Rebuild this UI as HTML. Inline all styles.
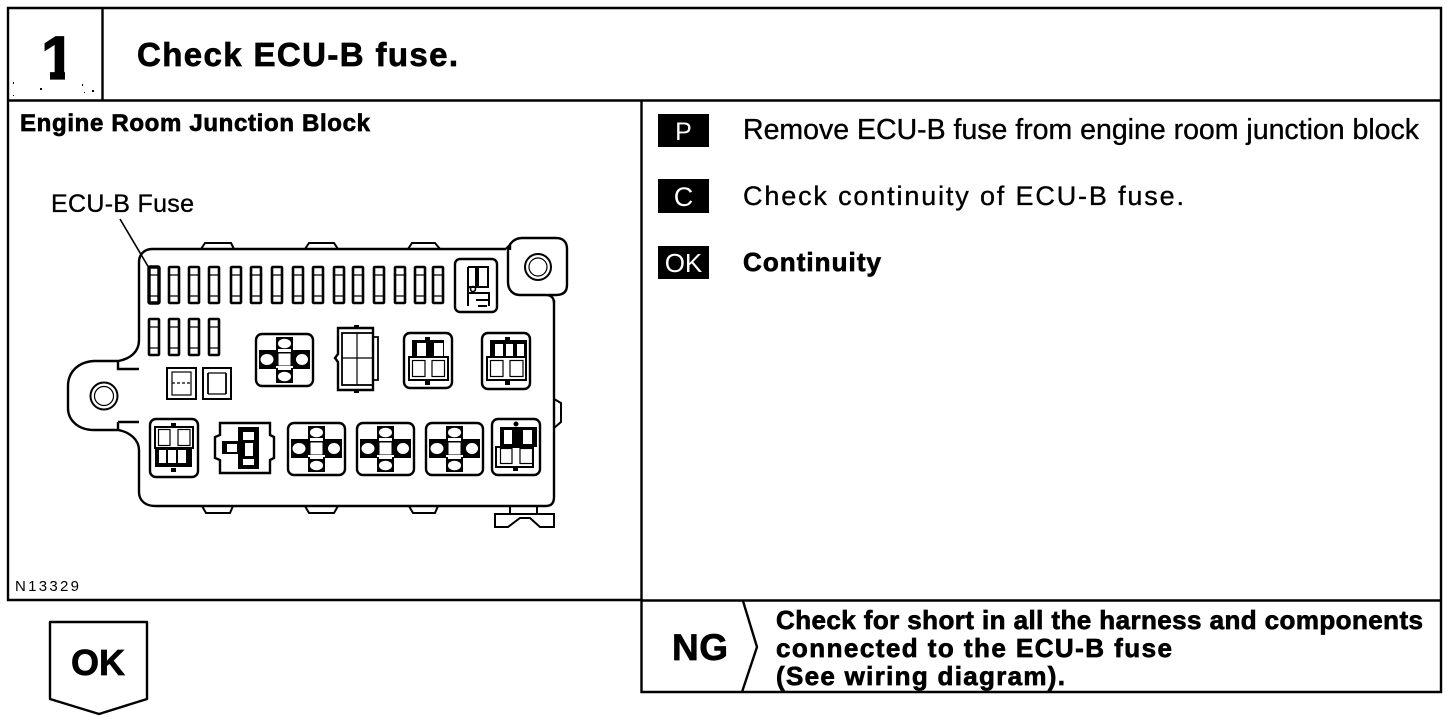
<!DOCTYPE html>
<html><head><meta charset="utf-8"><style>
html,body{margin:0;padding:0;background:#fff}
svg{display:block}
text{font-family:"Liberation Sans",sans-serif;fill:#000}
.b{font-weight:bold;stroke:#000;stroke-width:.7px}
.r{stroke:#000;stroke-width:.35px}
.l{fill:none;stroke:#000;stroke-width:2.4}
.t{fill:none;stroke:#000;stroke-width:1.2}
.k{fill:#000;stroke:none}
.v{fill:#fff;stroke:none}
</style></head><body>
<svg width="1456" height="722" viewBox="0 0 1456 722" xmlns="http://www.w3.org/2000/svg">
<defs>
<g id="f"><rect x="1" y="1" width="10" height="36" rx=".8" class="l" style="stroke-width:2.600"/><path d="M1 9H11M1 30H11" class="t"/></g>
<g id="x"><!-- cross connector 58x54 -->
<rect x="1" y="1" width="57" height="52" rx="6" class="l"/>
<path d="M21 4H38V17H55V36H38V50H21V36H4V17H21Z" class="k"/>
<path d="M23 16H36V19H23ZM23 35H36V37H23ZM21 33H38V35H21Z" class="v"/>
<rect x="23.500" y="20.500" width="12" height="12" class="v"/>
<ellipse cx="29.500" cy="10.500" rx="6.500" ry="4.800" class="v"/>
<ellipse cx="29.500" cy="43.500" rx="6.500" ry="4.800" class="v"/>
<ellipse cx="12" cy="26.500" rx="6.500" ry="5.500" class="v"/>
<ellipse cx="47" cy="26.500" rx="6" ry="5.500" class="v"/>
</g>
<g id="q1"><!-- 403 -->
<rect x="1" y="1" width="48" height="55" rx="6" class="l"/>
<rect x="9" y="8" width="32" height="17" class="k"/><rect x="14" y="11" width="9" height="14" class="v"/><rect x="31" y="11" width="9" height="14" class="v"/>
<rect x="6" y="25" width="39" height="23" class="l" style="stroke-width:2"/>
<rect x="9.500" y="28.500" width="12.500" height="16" class="t"/><rect x="29" y="28.500" width="12.500" height="16" class="t"/>
<rect x="22" y="5" width="5" height="4" class="k"/><rect x="22" y="49" width="5" height="4" class="k"/>
</g>
<g id="q2"><!-- 481 -->
<rect x="1" y="1" width="48" height="56" rx="6" class="l"/>
<rect x="9" y="8" width="37" height="17" class="k"/><rect x="14" y="12" width="8" height="13" class="v"/><rect x="25" y="12" width="7" height="13" class="v"/><rect x="36" y="12" width="7" height="13" class="v"/>
<rect x="6" y="25" width="39" height="23" class="l" style="stroke-width:2"/>
<rect x="9.500" y="28.500" width="12.500" height="16" class="t"/><rect x="29" y="28.500" width="13" height="16" class="t"/>
<rect x="24" y="5" width="5" height="4" class="k"/><rect x="24" y="49" width="5" height="4" class="k"/>
</g>
<g id="q3"><!-- 149 -->
<rect x="1" y="1" width="48" height="58" rx="6" class="l"/>
<rect x="6" y="9" width="38" height="21" class="l" style="stroke-width:2"/>
<rect x="9.500" y="11.500" width="11.500" height="16" class="t"/><rect x="29" y="11.500" width="12" height="16" class="t"/>
<rect x="6" y="30" width="37" height="19" class="k"/>
<rect x="10" y="32" width="7" height="13" class="v"/><rect x="19" y="32" width="8" height="13" class="v"/><rect x="29" y="32" width="8" height="13" class="v"/>
<rect x="22" y="5" width="5" height="4" class="k"/><rect x="22" y="50" width="5" height="4" class="k"/>
</g>
<g id="q4"><!-- 491 -->
<rect x="1" y="1" width="48" height="56" rx="6" class="l"/>
<rect x="9" y="9" width="37" height="20" class="k"/><rect x="13" y="12" width="8" height="14" class="v"/><rect x="32" y="12" width="9" height="14" class="v"/>
<rect x="5" y="29" width="37" height="20" class="l" style="stroke-width:2"/>
<rect x="9.500" y="30.500" width="11.500" height="15" class="t"/><rect x="29" y="30.500" width="12.500" height="15" class="t"/>
<circle cx="25" cy="6" r="2.500" class="k"/><rect x="22" y="49" width="5" height="4" class="k"/>
</g>
</defs>

<!-- frame -->
<path d="M8 8H1441V692H641.500V600H8Z" class="l"/>
<path d="M8 100.500H1441M102.500 8V100M641.500 100V600M641 600.500H1441" class="l"/>
<path d="M743 601L757 647L742 692" class="l"/>
<path d="M50 622H147V699L99 714L50 699Z" class="l" stroke-linejoin="round"/>

<!-- header text -->
<text x="41" y="79" font-size="61" class="b" style="stroke-width:1.200px">1</text>
<rect x="65" y="70" width="12" height="11" class="v"/>
<rect x="39" y="70" width="11" height="11" class="v"/>
<path d="M13 82h1v2h-1zM40 88h2v2h-2zM82 84h1v2h-1zM92 90h2v2h-2zM13 95h1v1h-1zM84 92h1v1h-1z" class="k"/>
<text x="137" y="66" font-size="33" class="b" textLength="321" lengthAdjust="spacing">Check ECU-B fuse.</text>
<text x="20" y="131" font-size="24" class="b" textLength="350" lengthAdjust="spacing">Engine Room Junction Block</text>
<text x="51" y="212" font-size="25" class="r" textLength="143" lengthAdjust="spacing">ECU-B Fuse</text>
<text x="15" y="591" font-size="15" textLength="64" lengthAdjust="spacing">N13329</text>

<!-- P/C/OK -->
<rect x="658" y="114" width="51" height="33" class="k"/>
<rect x="658" y="179" width="51" height="34" class="k"/>
<rect x="658" y="246" width="51" height="33" class="k"/>
<text x="683.500" y="140" font-size="25" text-anchor="middle" style="fill:#fff">P</text>
<text x="683.500" y="206" font-size="27" text-anchor="middle" style="fill:#fff">C</text>
<text x="683.500" y="272" font-size="26" text-anchor="middle" style="fill:#fff">OK</text>
<text x="743" y="139" font-size="28.500" class="r" textLength="676" lengthAdjust="spacing">Remove ECU-B fuse from engine room junction block</text>
<text x="743" y="205" font-size="27" class="r" textLength="441" lengthAdjust="spacing">Check continuity of ECU-B fuse.</text>
<text x="743" y="271" font-size="26" class="b" textLength="138" lengthAdjust="spacing">Continuity</text>

<!-- NG -->
<text x="672" y="660" font-size="37" class="b" textLength="56" lengthAdjust="spacing">NG</text>
<text x="776" y="629" font-size="26" class="b" textLength="647" lengthAdjust="spacing">Check for short in all the harness and components</text>
<text x="776" y="657" font-size="26" class="b" textLength="396" lengthAdjust="spacing">connected to the ECU-B fuse</text>
<text x="776" y="685" font-size="26" class="b" textLength="289" lengthAdjust="spacing">(See wiring diagram).</text>
<text x="71" y="675" font-size="36" class="b" textLength="54" lengthAdjust="spacing">OK</text>

<!-- leader -->
<path d="M120 219L149 268" stroke="#000" stroke-width="1.600" fill="none"/>

<!-- block outline -->
<path d="M152 249H506M139 262C139 254 145 249 152 249M139 262V340C139 352 130 359 118 361H94C78 362 68 372 68 386V408C68 420 78 430 94 430H118C130 432 139 440 139 450V492C139 501 146 506 155 506H546C552 506 554 502 554 497V300" class="l"/>
<path d="M506 249L510 245V250M508 250V282C508 290 513 295 520 295H546C553 295 554 300 554 303M508 250C509 243 515 238 522 238H556C563 238 567 242 567 249V285C567 292 563 295 556 295H548" class="l"/>
<path d="M118 361L118 369H139M118 422H139M118 422V430" class="l"/>
<!-- tabs -->
<path d="M201 249L205 243H231L234 249M305 249L309 243H334L338 249M408 249L412 243H435L440 249" class="t" style="stroke-width:2"/>
<path d="M202 506L206 513H230L233 506M305 506L309 513H334L338 506M409 506L413 513H435L438 506" class="t" style="stroke-width:2"/>
<path d="M554 399L561 403V422L554 428" class="t" style="stroke-width:2"/>
<path d="M510 506V513M537 506V513M495 514H554V527H540L530 518H520L508 527H495Z" class="t" style="stroke-width:2"/>
<!-- mount holes -->
<circle cx="104" cy="396" r="13.500" class="l" style="stroke-width:2"/><circle cx="104" cy="396" r="9.500" class="t"/>
<circle cx="538" cy="267" r="13" class="l" style="stroke-width:2"/><circle cx="538" cy="267" r="9" class="t"/>

<!-- fuse row 1 -->
<g transform="translate(148,266)"><use href="#f"/></g>
<rect x="149" y="267" width="10" height="36" rx="1" fill="none" stroke="#000" stroke-width="3.400"/>
<use href="#f" x="168" y="266"/><use href="#f" x="188" y="266"/><use href="#f" x="208" y="266"/>
<use href="#f" x="230" y="266"/><use href="#f" x="250" y="266"/><use href="#f" x="271" y="266"/>
<use href="#f" x="292" y="266"/><use href="#f" x="312" y="266"/><use href="#f" x="333" y="266"/>
<use href="#f" x="352" y="266"/><use href="#f" x="373" y="266"/><use href="#f" x="394" y="266"/>
<use href="#f" x="414" y="266"/><use href="#f" x="432" y="266"/>
<!-- fuse row 2 -->
<use href="#f" x="148" y="318"/><use href="#f" x="168" y="318"/><use href="#f" x="188" y="318"/><use href="#f" x="208" y="318"/>
<!-- small squares -->
<rect x="167" y="368" width="29" height="31" class="l" style="stroke-width:2"/><rect x="172" y="372" width="19" height="23" class="t"/>
<path d="M172 383H191" class="t" stroke-dasharray="3 2"/>
<rect x="203" y="368" width="28" height="31" class="l" style="stroke-width:2"/><path d="M208 373H226M208 394H226" class="t"/><path d="M208 373V394M226 373V394" class="t" style="stroke-width:1.800"/>

<!-- top right -->
<rect x="455" y="259" width="42" height="53" rx="5" class="l"/>
<path d="M468 267H488V287H478V267M468 267V287H476V267" class="l" style="stroke-width:2"/>
<path d="M468 287V306M468 293H489V300M476 300H489M478 306H487M489 300V306" class="l" style="stroke-width:2"/>
<circle cx="473" cy="289" r="2.500" class="l" style="stroke-width:1.600"/>

<!-- middle row -->
<use href="#x" x="255" y="333"/>
<path d="M338 328H373V390H338V362L335 358L338 354Z" class="l"/>
<rect x="342" y="333" width="31" height="52" class="t" style="stroke-width:1.800"/>
<path d="M357 333V385M342 358H373" class="t"/>
<path d="M373 337H378V380H373" class="l" style="stroke-width:1.800"/>
<rect x="354" y="325" width="5" height="3" class="k"/><rect x="354" y="390" width="5" height="3" class="k"/>
<use href="#q1" x="403" y="332"/>
<use href="#q2" x="481" y="332"/>

<!-- bottom row -->
<use href="#q3" x="149" y="418"/>
<path d="M220 435V423H270V435L274 437V458L270 460V473H220V460L215 458V437Z" class="l"/>
<rect x="238" y="427" width="21" height="42" class="k"/>
<rect x="222" y="441" width="16" height="13" class="k"/>
<rect x="227" y="444" width="10" height="8" class="v"/>
<rect x="243" y="432" width="11" height="8" class="v"/>
<rect x="245" y="443" width="8" height="13" class="v"/>
<rect x="243" y="459" width="11" height="6" class="v"/>
<use href="#x" x="287" y="422"/>
<use href="#x" x="356" y="422"/>
<use href="#x" x="425" y="422"/>
<use href="#q4" x="491" y="418"/>
</svg>
</body></html>
